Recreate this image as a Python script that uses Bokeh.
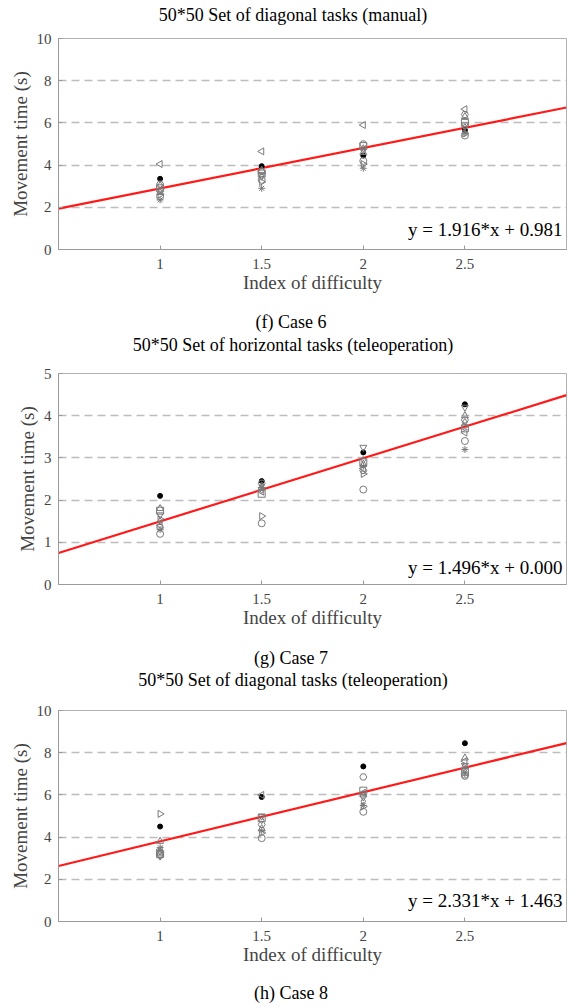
import math
from bokeh.plotting import figure
from bokeh.layouts import column
from bokeh.models import Label, FixedTicker, Range1d, Div
from bokeh.embed import file_html
from bokeh.resources import INLINE

# ---------------- data ----------------
index_of_difficulty = [1, 1.5, 2, 2.5]
x_tick_labels = ["1", "1.5", "2", "2.5"]

# one marker per participant
markers = ["circle", "circle", "asterisk", "square", "diamond",
           "triangle", "inverted_triangle", "triangle", "triangle", "hex"]
marker_angles = [0, 0, 0, 0, 0, 0, 0, math.pi / 2, -math.pi / 2, 0]
marker_filled = [True, False, False, False, False, False, False, False, False, False]

titles = ["50*50 Set of diagonal tasks (manual)",
          "50*50 Set of horizontal tasks (teleoperation)",
          "50*50 Set of diagonal tasks (teleoperation)"]
captions = ["(f) Case 6", "(g) Case 7", "(h) Case 8"]
slopes = [1.916, 1.496, 2.331]
intercepts = [0.981, 0.000, 1.463]
y_max = [10, 5, 10]
y_ticks = [[0, 2, 4, 6, 8, 10], [0, 1, 2, 3, 4, 5], [0, 2, 4, 6, 8, 10]]

# movement time (s) per participant at ID = 1, 1.5, 2, 2.5
case6_mt = [
    [3.35, 3.95, 4.45, 5.65],
    [2.50, 3.30, 4.20, 5.40],
    [2.35, 2.90, 3.85, 5.50],
    [2.90, 3.60, 4.90, 6.00],
    [3.05, 3.45, 4.80, 5.80],
    [2.70, 3.75, 4.60, 6.30],
    [2.80, 3.50, 4.70, 5.90],
    [4.05, 4.65, 5.90, 6.65],
    [2.60, 3.20, 4.05, 5.50],
    [3.10, 3.70, 5.00, 6.40],
]
case7_mt = [
    [2.10, 2.45, 3.13, 4.27],
    [1.20, 1.45, 2.25, 3.40],
    [1.30, 2.30, 2.80, 3.20],
    [1.75, 2.15, 2.90, 3.70],
    [1.50, 2.35, 2.95, 3.85],
    [1.80, 2.30, 2.85, 4.00],
    [1.65, 2.25, 3.25, 4.20],
    [1.40, 2.20, 2.75, 3.60],
    [1.55, 1.62, 2.62, 3.75],
    [1.35, 2.40, 2.70, 3.90],
]
case8_mt = [
    [4.50, 5.90, 7.35, 8.45],
    [3.15, 3.95, 5.20, 6.90],
    [3.50, 4.30, 5.50, 7.00],
    [3.20, 4.90, 6.20, 7.10],
    [3.30, 4.80, 5.70, 7.20],
    [3.80, 4.40, 6.00, 7.75],
    [3.10, 5.00, 5.90, 7.40],
    [3.40, 6.00, 6.10, 7.60],
    [5.10, 4.20, 5.45, 7.30],
    [3.25, 4.60, 6.85, 6.95],
]
all_cases = [case6_mt, case7_mt, case8_mt]
eq_label_y = [0.95, 0.40, 0.99]

FONT = "Liberation Serif"
W = 570
fig_heights = [282, 290, 291]
fig_top = [8, 16, 19]
fig_bottom = [63, 63, 61]
title_heights = [30, 24, 22]
caption_heights = [21, 22, 22]


def text_div(txt, h, dx):
    html = ('<div style="display:block; width:%dpx; text-align:center; '
            'position:relative; left:%dpx; '
            'font-family:\'Liberation Serif\'; font-size:18px; color:black; '
            'line-height:%dpx; white-space:nowrap;">%s</div>' % (W, dx, h, txt))
    return Div(text=html, width=W, height=h, margin=0)


def make_panel(i):
    p = figure(width=W, height=fig_heights[i],
               x_range=Range1d(0.5, 3.0), y_range=Range1d(0, y_max[i]),
               output_backend="svg", toolbar_location=None,
               min_border_left=58, min_border_right=4,
               min_border_top=fig_top[i], min_border_bottom=fig_bottom[i])

    # axes
    p.xaxis.ticker = FixedTicker(ticks=index_of_difficulty)
    p.xaxis.major_label_overrides = {t: l for t, l in zip(index_of_difficulty, x_tick_labels)}
    p.yaxis.ticker = FixedTicker(ticks=y_ticks[i])
    p.xaxis.axis_label = "Index of difficulty"
    p.yaxis.axis_label = "Movement time (s)"
    for ax in (p.xaxis, p.yaxis):
        ax.axis_label_text_font = FONT
        ax.axis_label_text_font_size = "19px"
        ax.axis_label_text_font_style = "normal"
        ax.major_label_text_font = FONT
        ax.major_label_text_font_size = "15px"
        ax.major_tick_in = 4
        ax.major_tick_out = 0
        ax.minor_tick_in = 0
        ax.minor_tick_out = 0
        ax.axis_line_color = "#9a9a9a"
        ax.major_tick_line_color = "#9a9a9a"
    p.xaxis.major_label_standoff = 9
    p.xaxis.axis_label_standoff = 0
    p.yaxis.major_label_standoff = 7
    p.yaxis.axis_label_standoff = 3
    p.outline_line_color = "#b0b0b0"

    p.xgrid.grid_line_color = None
    p.ygrid.grid_line_color = "#bdbdbd"
    p.ygrid.grid_line_dash = "8 5"
    p.ygrid.grid_line_width = 1.5

    # fitted line
    xs = [0.5, 3.0]
    ys = [slopes[i] * x + intercepts[i] for x in xs]
    p.line(xs, ys, line_color="#ff1a1a", line_width=2.2)

    # participants
    for k, vals in enumerate(all_cases[i]):
        if marker_filled[k]:
            p.scatter(index_of_difficulty, vals, marker="circle", size=5,
                      fill_color="black", line_color="black")
        else:
            p.scatter(index_of_difficulty, vals, marker=markers[k], size=7,
                      angle=marker_angles[k], fill_color=None,
                      line_color="#7a7a7a", line_width=1)

    eq = "y = %.3f*x + %.3f" % (slopes[i], intercepts[i])
    p.add_layout(Label(x=2.98, y=eq_label_y[i], text=eq, text_align="right",
                       text_baseline="middle", text_font=FONT,
                       text_font_size="19px", text_color="black"))
    return p


items = []
for i in range(3):
    items.append(text_div(titles[i], title_heights[i], 8))
    items.append(make_panel(i))
    items.append(text_div(captions[i], caption_heights[i], 6))

layout = column(*items, spacing=0)
open("out.html", "w").write(file_html(layout, INLINE))
